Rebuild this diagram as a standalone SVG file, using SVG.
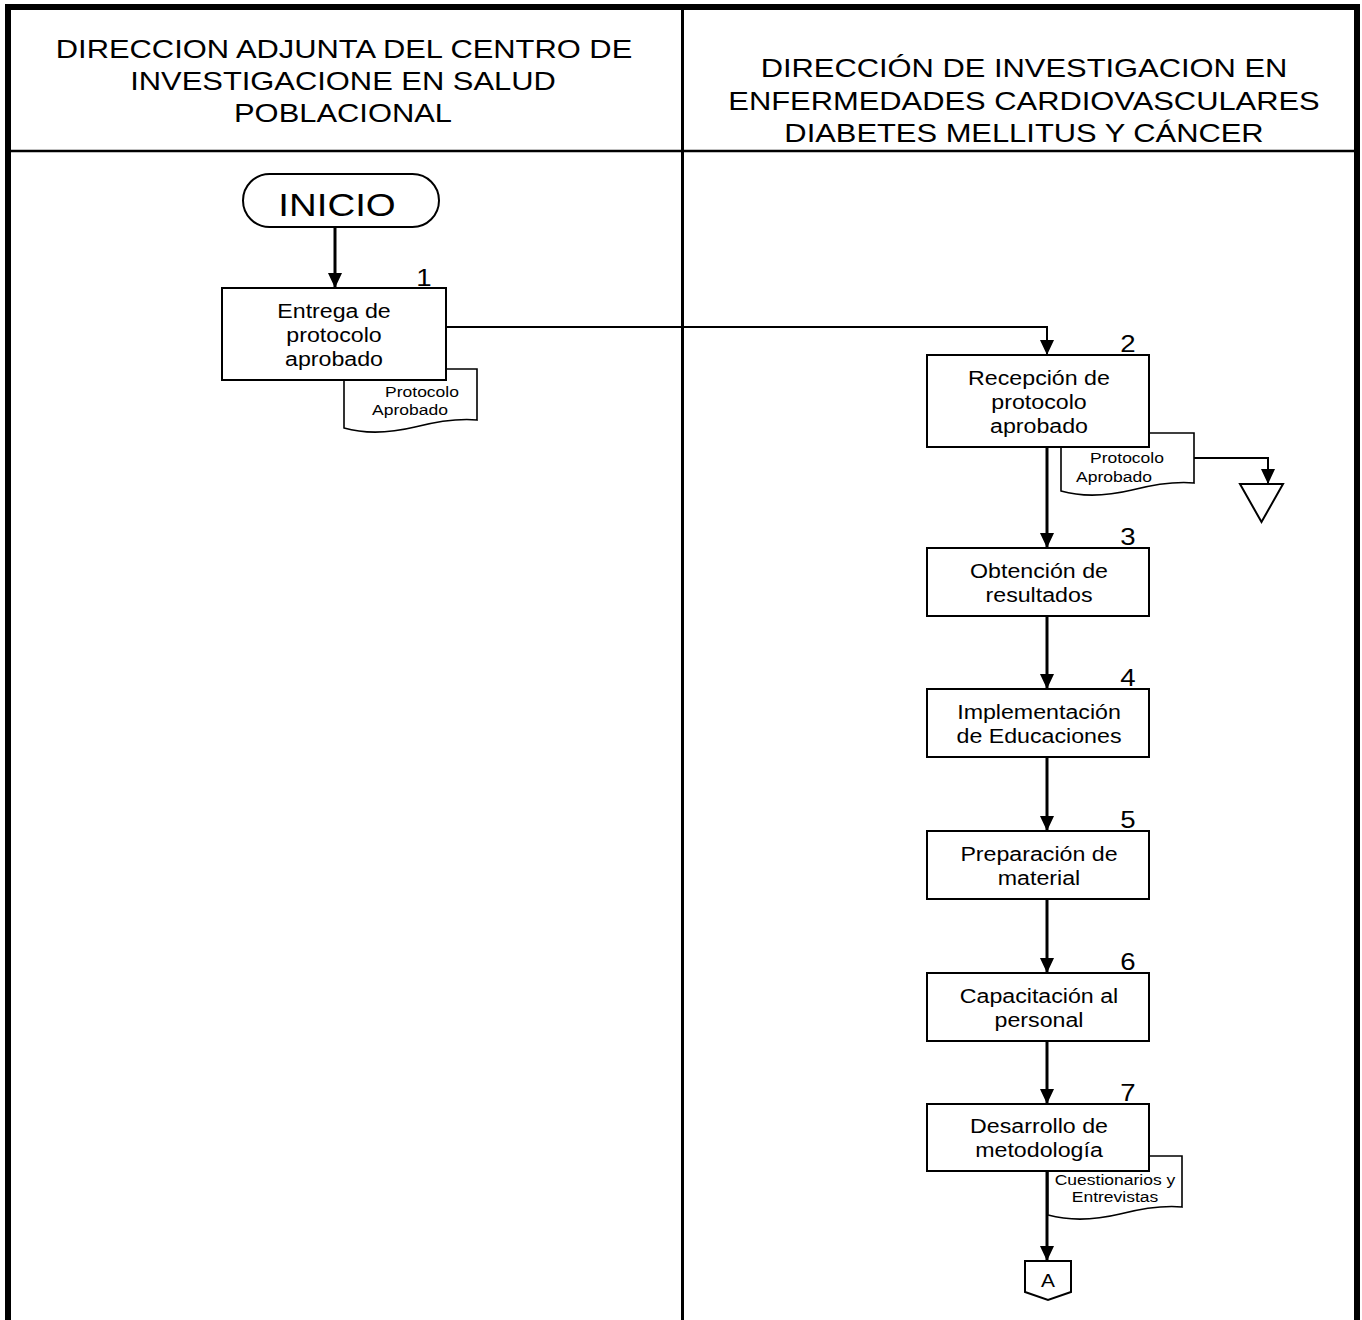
<svg xmlns="http://www.w3.org/2000/svg" width="1362" height="1320" viewBox="0 0 1362 1320">
<style>
text{font-family:"Liberation Sans",Arial,sans-serif;fill:#000;text-anchor:middle}
.hdr{font-size:26.5px}
.bx{font-size:20px}
.sm{font-size:15.5px}
.num{font-size:24px}
.box{fill:#fff;stroke:#000;stroke-width:2}
.doc{fill:#fff;stroke:#000;stroke-width:1.6}
.frame{stroke:#000;fill:none}
.flow{stroke:#000;stroke-width:3;fill:none}
.thin{stroke:#000;stroke-width:2;fill:none}
</style>
<defs>
<marker id="ah" viewBox="0 0 15 14" markerUnits="userSpaceOnUse" markerWidth="15" markerHeight="14" refX="15" refY="7" orient="auto">
<path d="M0,0 L15,7 L0,14 Z" fill="#000"/>
</marker>
</defs>
<rect width="1362" height="1320" fill="#fff"/>
<g id="frame">
<line class="frame" x1="5" y1="7" x2="1360" y2="7" stroke-width="6"/>
<line class="frame" x1="8" y1="4" x2="8" y2="1320" stroke-width="6"/>
<line class="frame" x1="1357" y1="4" x2="1357" y2="1320" stroke-width="6"/>
<line class="frame" x1="682.5" y1="7" x2="682.5" y2="1320" stroke-width="3"/>
<line class="frame" x1="8" y1="151" x2="1357" y2="151" stroke-width="2.5"/>
</g>
<g id="lane-left-header">
<text class="hdr" transform="translate(344,0) scale(1.166,1)" y="58">DIRECCION ADJUNTA DEL CENTRO DE</text>
<text class="hdr" transform="translate(343,0) scale(1.166,1)" y="90">INVESTIGACIONE EN SALUD</text>
<text class="hdr" transform="translate(343,0) scale(1.166,1)" y="122">POBLACIONAL</text>
</g>
<g id="lane-right-header">
<text class="hdr" transform="translate(1024,0) scale(1.166,1)" y="77">DIRECCIÓN DE INVESTIGACION EN</text>
<text class="hdr" transform="translate(1024,0) scale(1.166,1)" y="110">ENFERMEDADES CARDIOVASCULARES</text>
<text class="hdr" transform="translate(1024,0) scale(1.166,1)" y="142">DIABETES MELLITUS Y CÁNCER</text>
</g>
<g id="connectors">
<line class="flow" x1="335" y1="227" x2="335" y2="288" marker-end="url(#ah)"/>
<polyline class="thin" points="446,327 1047,327 1047,355" marker-end="url(#ah)"/>
<line class="flow" x1="1047" y1="447" x2="1047" y2="548" marker-end="url(#ah)"/>
<polyline class="thin" points="1194,458 1268,458 1268,484" marker-end="url(#ah)"/>
<line class="flow" x1="1047" y1="616" x2="1047" y2="689" marker-end="url(#ah)"/>
<line class="flow" x1="1047" y1="757" x2="1047" y2="831" marker-end="url(#ah)"/>
<line class="flow" x1="1047" y1="899" x2="1047" y2="973" marker-end="url(#ah)"/>
<line class="flow" x1="1047" y1="1041" x2="1047" y2="1104" marker-end="url(#ah)"/>
<line class="flow" x1="1047" y1="1171" x2="1047" y2="1261" marker-end="url(#ah)"/>
</g>
<g id="inicio">
<rect x="243" y="174" width="196" height="53" rx="26.5" class="box"/>
<text transform="translate(337,0) scale(1.24,1)" y="216" style="font-size:31px">INICIO</text>
</g>
<g id="doc1">
<path class="doc" d="M344,369 H477 V420 C455,418 435,422 415,427 C390,433 365,434 344,428 Z"/>
<text class="sm" transform="translate(422,0) scale(1.13,1)" y="397">Protocolo</text>
<text class="sm" transform="translate(410,0) scale(1.13,1)" y="415">Aprobado</text>
</g>
<g id="step1">
<rect x="222" y="288" width="224" height="92" class="box"/>
<text class="num" transform="translate(424,0) scale(1.15,1)" y="286">1</text>
<text class="bx" transform="translate(334,0) scale(1.16,1)" y="318">Entrega de</text>
<text class="bx" transform="translate(334,0) scale(1.16,1)" y="342">protocolo</text>
<text class="bx" transform="translate(334,0) scale(1.16,1)" y="366">aprobado</text>
</g>
<g id="doc2">
<path class="doc" d="M1061,433 H1194 V483 C1172,481 1152,485 1132,490 C1107,496 1082,497 1061,491 Z"/>
<text class="sm" transform="translate(1127,0) scale(1.13,1)" y="463">Protocolo</text>
<text class="sm" transform="translate(1114,0) scale(1.13,1)" y="482">Aprobado</text>
</g>
<g id="step2">
<rect x="927" y="355" width="222" height="92" class="box"/>
<text class="num" transform="translate(1128,0) scale(1.15,1)" y="352">2</text>
<text class="bx" transform="translate(1039,0) scale(1.16,1)" y="385">Recepción de</text>
<text class="bx" transform="translate(1039,0) scale(1.16,1)" y="409">protocolo</text>
<text class="bx" transform="translate(1039,0) scale(1.16,1)" y="433">aprobado</text>
</g>
<g id="archive">
<path class="box" d="M1240,484 L1283,484 L1261.5,522 Z"/>
</g>
<g id="step3">
<rect x="927" y="548" width="222" height="68" class="box"/>
<text class="num" transform="translate(1128,0) scale(1.15,1)" y="545">3</text>
<text class="bx" transform="translate(1039,0) scale(1.16,1)" y="578">Obtención de</text>
<text class="bx" transform="translate(1039,0) scale(1.16,1)" y="602">resultados</text>
</g>
<g id="step4">
<rect x="927" y="689" width="222" height="68" class="box"/>
<text class="num" transform="translate(1128,0) scale(1.15,1)" y="686">4</text>
<text class="bx" transform="translate(1039,0) scale(1.16,1)" y="719">Implementación</text>
<text class="bx" transform="translate(1039,0) scale(1.16,1)" y="743">de Educaciones</text>
</g>
<g id="step5">
<rect x="927" y="831" width="222" height="68" class="box"/>
<text class="num" transform="translate(1128,0) scale(1.15,1)" y="828">5</text>
<text class="bx" transform="translate(1039,0) scale(1.16,1)" y="861">Preparación de</text>
<text class="bx" transform="translate(1039,0) scale(1.16,1)" y="885">material</text>
</g>
<g id="step6">
<rect x="927" y="973" width="222" height="68" class="box"/>
<text class="num" transform="translate(1128,0) scale(1.15,1)" y="970">6</text>
<text class="bx" transform="translate(1039,0) scale(1.16,1)" y="1003">Capacitación al</text>
<text class="bx" transform="translate(1039,0) scale(1.16,1)" y="1027">personal</text>
</g>
<g id="doc7">
<path class="doc" d="M1048,1156 H1182 V1207 C1160,1205 1140,1209 1120,1214 C1095,1220 1070,1221 1048,1215 Z"/>
<text class="sm" transform="translate(1115,0) scale(1.13,1)" y="1185">Cuestionarios y</text>
<text class="sm" transform="translate(1115,0) scale(1.13,1)" y="1202">Entrevistas</text>
</g>
<g id="step7">
<rect x="927" y="1104" width="222" height="67" class="box"/>
<text class="num" transform="translate(1128,0) scale(1.15,1)" y="1101">7</text>
<text class="bx" transform="translate(1039,0) scale(1.16,1)" y="1133">Desarrollo de</text>
<text class="bx" transform="translate(1039,0) scale(1.16,1)" y="1157">metodología</text>
</g>
<g id="connector-a">
<path class="box" d="M1025,1261 H1071 V1292 L1048,1300 L1025,1292 Z"/>
<text transform="translate(1048,0) scale(1.1,1)" y="1287" style="font-size:19px">A</text>
</g>
</svg>
